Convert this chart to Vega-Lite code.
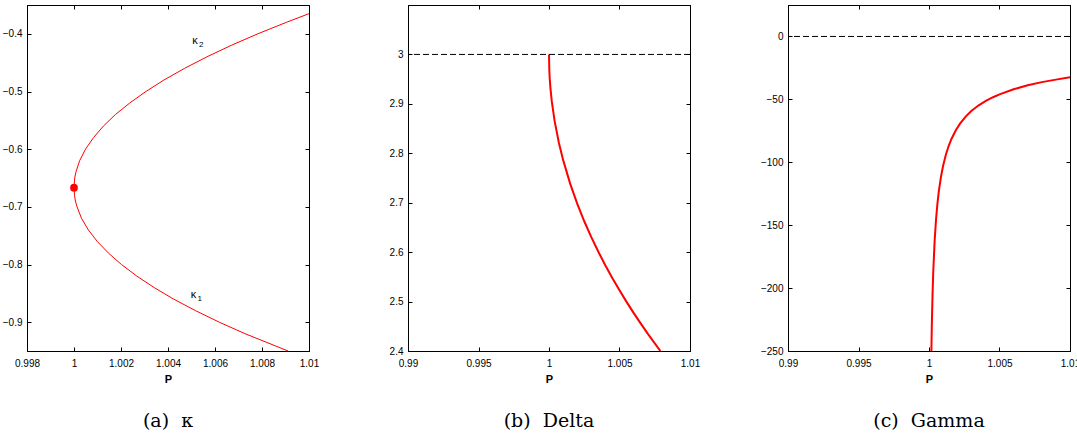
{
  "$schema": "https://vega.github.io/schema/vega-lite/v6.json",
  "padding": {"left": 1, "top": 4, "right": 0, "bottom": 0},
  "spacing": 58,
  "config": {
    "view": {"stroke": "black", "strokeWidth": 1},
    "axis": {
      "grid": false,
      "domainColor": "black",
      "tickColor": "black",
      "labelColor": "black",
      "labelFont": "Liberation Sans",
      "labelFontSize": 10,
      "titleFont": "Liberation Sans",
      "titleFontSize": 11,
      "titleColor": "black",
      "tickSize": -4,
      "labelFlush": false,
      "labelOverlap": false,
      "labelBound": false
    },
    "axisX": {"labelPadding": 11},
    "axisY": {"labelPadding": 9},
    "title": {"font": "DejaVu Serif", "fontSize": 19, "fontWeight": "normal", "color": "black"}
  },
  "datasets": {
    "ka": [
      {"P": 1.00911, "K": -0.95}, {"P": 1.00728, "K": -0.92}, {"P": 1.00618, "K": -0.90},
      {"P": 1.00517, "K": -0.88}, {"P": 1.00424, "K": -0.86}, {"P": 1.00341, "K": -0.84},
      {"P": 1.00267, "K": -0.82}, {"P": 1.00202, "K": -0.80}, {"P": 1.00146, "K": -0.78},
      {"P": 1.00099, "K": -0.76}, {"P": 1.00061, "K": -0.74}, {"P": 1.00032, "K": -0.72},
      {"P": 1.00013, "K": -0.70}, {"P": 1.00006, "K": -0.69}, {"P": 1.00002, "K": -0.68},
      {"P": 1.0, "K": -0.6667},
      {"P": 1.00003, "K": -0.65}, {"P": 1.00008, "K": -0.64}, {"P": 1.00024, "K": -0.62},
      {"P": 1.00049, "K": -0.60}, {"P": 1.00083, "K": -0.58}, {"P": 1.00125, "K": -0.56},
      {"P": 1.00176, "K": -0.54}, {"P": 1.00237, "K": -0.52}, {"P": 1.00306, "K": -0.50},
      {"P": 1.00383, "K": -0.48}, {"P": 1.00470, "K": -0.46}, {"P": 1.00565, "K": -0.44},
      {"P": 1.00669, "K": -0.42}, {"P": 1.00782, "K": -0.40}, {"P": 1.00904, "K": -0.38},
      {"P": 1.0100, "K": -0.365}
    ],
    "kpt": [{"P": 1.0, "K": -0.6667}],
    "klab": [
      {"P": 1.00523, "K": -0.412, "t": "κ", "s": "2"},
      {"P": 1.00517, "K": -0.853, "t": "κ", "s": "1"}
    ],
    "delta": [
      {"P": 1.0, "D": 3.0}, {"P": 1.00002, "D": 2.970}, {"P": 1.00005, "D": 2.952},
      {"P": 1.0001, "D": 2.9325}, {"P": 1.0002, "D": 2.9045}, {"P": 1.0004, "D": 2.865},
      {"P": 1.0007, "D": 2.8214}, {"P": 1.001, "D": 2.7866}, {"P": 1.0015, "D": 2.7386},
      {"P": 1.002, "D": 2.6981}, {"P": 1.0025, "D": 2.6625}, {"P": 1.003, "D": 2.6303},
      {"P": 1.0035, "D": 2.6007}, {"P": 1.004, "D": 2.5731}, {"P": 1.0045, "D": 2.5472},
      {"P": 1.005, "D": 2.5227}, {"P": 1.0055, "D": 2.4994}, {"P": 1.006, "D": 2.4771},
      {"P": 1.0065, "D": 2.4558}, {"P": 1.007, "D": 2.4352}, {"P": 1.0079, "D": 2.400}
    ],
    "gamma": [
      {"P": 1.000169, "G": -250}, {"P": 1.0002, "G": -229.8}, {"P": 1.00025, "G": -205.6},
      {"P": 1.0003, "G": -187.6}, {"P": 1.0004, "G": -162.5}, {"P": 1.0005, "G": -145.3},
      {"P": 1.0006, "G": -132.7}, {"P": 1.0007, "G": -122.8}, {"P": 1.00085, "G": -111.5},
      {"P": 1.001, "G": -102.8}, {"P": 1.0012, "G": -93.8}, {"P": 1.0014, "G": -86.9},
      {"P": 1.0016, "G": -81.3}, {"P": 1.0019, "G": -74.6}, {"P": 1.0022, "G": -69.3},
      {"P": 1.0026, "G": -63.7}, {"P": 1.003, "G": -59.3}, {"P": 1.0035, "G": -54.9},
      {"P": 1.004, "G": -51.4}, {"P": 1.0045, "G": -48.5}, {"P": 1.005, "G": -46.0},
      {"P": 1.006, "G": -42.0}, {"P": 1.007, "G": -38.8}, {"P": 1.008, "G": -36.3},
      {"P": 1.009, "G": -34.3}, {"P": 1.01, "G": -32.5}
    ],
    "refb": [{"v": 3}],
    "refc": [{"v": 0}]
  },
  "hconcat": [
    {
      "width": 282, "height": 346,
      "title": {"text": "(a)\u00a0\u00a0κ", "orient": "bottom", "anchor": "middle", "frame": "group", "offset": 28},
      "resolve": {"axis": {"x": "independent", "y": "independent"}},
      "layer": [
        {
          "data": {"name": "ka"},
          "mark": {"type": "line", "color": "red", "strokeWidth": 1, "clip": true},
          "encoding": {
            "x": {"field": "P", "type": "quantitative", "scale": {"domain": [0.998, 1.01], "nice": false, "zero": false},
                  "axis": {"orient": "bottom", "values": [0.998, 1, 1.002, 1.004, 1.006, 1.008, 1.01], "format": "~g", "title": "P", "titleFontWeight": "bold", "titlePadding": 5}},
            "y": {"field": "K", "type": "quantitative", "scale": {"domain": [-0.95, -0.35], "nice": false, "zero": false},
                  "axis": {"orient": "left", "values": [-0.9, -0.8, -0.7, -0.6, -0.5, -0.4], "format": "~g", "title": null}},
            "order": {"field": "K", "type": "quantitative"}
          }
        },
        {
          "data": {"name": "kpt"},
          "mark": {"type": "point", "filled": true, "color": "red", "opacity": 1, "size": 60},
          "encoding": {
            "x": {"field": "P", "type": "quantitative",
                  "axis": {"orient": "top", "values": [0.998, 1, 1.002, 1.004, 1.006, 1.008, 1.01], "labels": false, "title": null}},
            "y": {"field": "K", "type": "quantitative",
                  "axis": {"orient": "right", "values": [-0.9, -0.8, -0.7, -0.6, -0.5, -0.4], "labels": false, "title": null}}
          }
        },
        {
          "data": {"name": "klab"},
          "mark": {"type": "text", "font": "Liberation Sans", "fontSize": 11, "color": "black", "align": "center", "baseline": "middle", "dx": -2},
          "encoding": {
            "x": {"field": "P", "type": "quantitative", "axis": null},
            "y": {"field": "K", "type": "quantitative", "axis": null},
            "text": {"field": "t"}
          }
        },
        {
          "data": {"name": "klab"},
          "mark": {"type": "text", "font": "Liberation Sans", "fontSize": 8, "color": "black", "align": "left", "baseline": "middle", "dx": 2, "dy": 4},
          "encoding": {
            "x": {"field": "P", "type": "quantitative", "axis": null},
            "y": {"field": "K", "type": "quantitative", "axis": null},
            "text": {"field": "s"}
          }
        }
      ]
    },
    {
      "width": 282, "height": 346,
      "title": {"text": "(b)\u00a0\u00a0Delta", "orient": "bottom", "anchor": "middle", "frame": "group", "offset": 28},
      "resolve": {"axis": {"x": "independent", "y": "independent"}},
      "layer": [
        {
          "data": {"name": "delta"},
          "mark": {"type": "line", "color": "red", "strokeWidth": 2, "clip": true},
          "encoding": {
            "x": {"field": "P", "type": "quantitative", "scale": {"domain": [0.99, 1.01], "nice": false, "zero": false},
                  "axis": {"orient": "bottom", "values": [0.99, 0.995, 1, 1.005, 1.01], "format": "~g", "title": "P", "titleFontWeight": "bold", "titlePadding": 5}},
            "y": {"field": "D", "type": "quantitative", "scale": {"domain": [2.4, 3.1], "nice": false, "zero": false},
                  "axis": {"orient": "left", "values": [2.4, 2.5, 2.6, 2.7, 2.8, 2.9, 3], "format": "~g", "title": null, "minExtent": 29, "maxExtent": 29}}
          }
        },
        {
          "data": {"name": "refb"},
          "mark": {"type": "rule", "color": "black", "strokeWidth": 1, "strokeDash": [6, 3]},
          "encoding": {
            "y": {"field": "v", "type": "quantitative",
                  "axis": {"orient": "right", "values": [2.4, 2.5, 2.6, 2.7, 2.8, 2.9, 3], "labels": false, "title": null}}
          }
        },
        {
          "data": {"name": "delta"},
          "mark": {"type": "line", "opacity": 0},
          "encoding": {
            "x": {"field": "P", "type": "quantitative",
                  "axis": {"orient": "top", "values": [0.99, 0.995, 1, 1.005, 1.01], "labels": false, "title": null}},
            "y": {"field": "D", "type": "quantitative", "axis": null}
          }
        }
      ]
    },
    {
      "width": 282, "height": 346,
      "title": {"text": "(c)\u00a0\u00a0Gamma", "orient": "bottom", "anchor": "middle", "frame": "group", "offset": 28},
      "resolve": {"axis": {"x": "independent", "y": "independent"}},
      "layer": [
        {
          "data": {"name": "gamma"},
          "mark": {"type": "line", "color": "red", "strokeWidth": 2, "clip": true},
          "encoding": {
            "x": {"field": "P", "type": "quantitative", "scale": {"domain": [0.99, 1.01], "nice": false, "zero": false},
                  "axis": {"orient": "bottom", "values": [0.99, 0.995, 1, 1.005, 1.01], "format": "~g", "title": "P", "titleFontWeight": "bold", "titlePadding": 5}},
            "y": {"field": "G", "type": "quantitative", "scale": {"domain": [-250, 25], "nice": false, "zero": false},
                  "axis": {"orient": "left", "values": [-250, -200, -150, -100, -50, 0], "format": "d", "title": null, "minExtent": 26, "maxExtent": 26}}
          }
        },
        {
          "data": {"name": "refc"},
          "mark": {"type": "rule", "color": "black", "strokeWidth": 1, "strokeDash": [6, 3]},
          "encoding": {
            "y": {"field": "v", "type": "quantitative",
                  "axis": {"orient": "right", "values": [-250, -200, -150, -100, -50, 0], "labels": false, "title": null}}
          }
        },
        {
          "data": {"name": "gamma"},
          "mark": {"type": "line", "opacity": 0},
          "encoding": {
            "x": {"field": "P", "type": "quantitative",
                  "axis": {"orient": "top", "values": [0.99, 0.995, 1, 1.005, 1.01], "labels": false, "title": null}},
            "y": {"field": "G", "type": "quantitative", "axis": null}
          }
        }
      ]
    }
  ]
}
